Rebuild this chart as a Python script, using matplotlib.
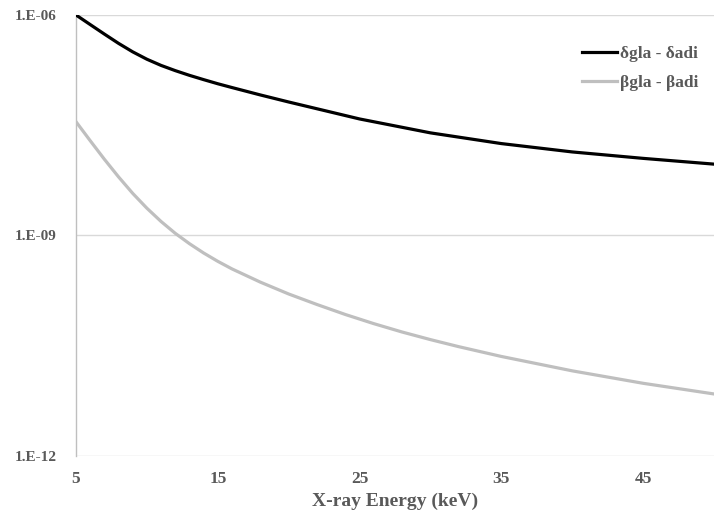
import math

import matplotlib

matplotlib.use("Agg")

import matplotlib.pyplot as plt
from matplotlib.ticker import FixedLocator, FuncFormatter, NullLocator

# X-ray energy (keV) and delta_gla - delta_adi
energy_delta = [5, 6, 7, 8, 9, 10, 11, 12, 13, 14, 15, 16, 18, 20, 25, 30, 35, 40, 45, 50]
delta_diff = [1.0e-6, 7.41e-7, 5.50e-7, 4.11e-7, 3.15e-7, 2.50e-7, 2.06e-7, 1.75e-7,
              1.51e-7, 1.32e-7, 1.16e-7, 1.03e-7, 8.17e-8, 6.55e-8, 3.85e-8, 2.49e-8,
              1.78e-8, 1.37e-8, 1.12e-8, 9.35e-9]

# X-ray energy (keV) and beta_gla - beta_adi
energy_beta = [5, 6, 7, 8, 9, 10, 11, 12, 13, 14, 15, 16, 18, 20, 22, 24, 26, 28, 30, 32,
               35, 40, 45, 50]
beta_diff = [3.53e-8, 1.95e-8, 1.09e-8, 6.27e-9, 3.74e-9, 2.35e-9, 1.55e-9, 1.07e-9,
             7.74e-10, 5.78e-10, 4.45e-10, 3.51e-10, 2.32e-10, 1.60e-10, 1.15e-10, 8.41e-11,
             6.32e-11, 4.86e-11, 3.83e-11, 3.07e-11, 2.26e-11, 1.44e-11, 9.75e-12, 6.98e-12]

x_ticks = [5, 15, 25, 35, 45]
y_ticks = [1e-12, 1e-9, 1e-6]

TEXT_GREY = "#595959"
GRID_GREY = "#D9D9D9"


def excel_sci(value, _pos):
    return f"1.E{int(round(math.log10(value))):03d}"


plt.rcParams.update({
    "font.family": "Liberation Serif",
    "font.weight": "bold",
})

fig = plt.figure(figsize=(7.15, 5.15), dpi=100)
ax = fig.add_axes([0.1063, 0.1146, 0.8923, 0.8563])

ax.plot(energy_delta, delta_diff, color="black", linewidth=2.3, label="δgla - δadi", zorder=3)
ax.plot(energy_beta, beta_diff, color="#BFBFBF", linewidth=2.3, label="βgla - βadi", zorder=3)

ax.set_yscale("log")
ax.set_xlim(5, 50)
ax.set_ylim(1e-12, 1e-6)
ax.yaxis.set_major_locator(FixedLocator(y_ticks))
ax.yaxis.set_minor_locator(NullLocator())
ax.yaxis.set_major_formatter(FuncFormatter(excel_sci))
ax.set_xticks(x_ticks)

ax.grid(axis="y", color=GRID_GREY, linewidth=1.0, zorder=0)
for side in ("top", "right", "bottom"):
    ax.spines[side].set_visible(False)
ax.spines["left"].set_color("#BFBFBF")
ax.spines["left"].set_linewidth(1.0)

ax.tick_params(axis="both", length=0, labelcolor=TEXT_GREY)
ax.tick_params(axis="y", pad=14, labelsize=11)
ax.tick_params(axis="x", pad=11, labelsize=12.5)

ax.set_xlabel("X-ray Energy (keV)", fontsize=14, fontweight="bold", color=TEXT_GREY, labelpad=4)

ax.legend(
    loc="upper right",
    bbox_to_anchor=(1.0, 0.965),
    frameon=False,
    handlelength=2.0,
    handletextpad=0.2,
    labelspacing=0.75,
    labelcolor=TEXT_GREY,
    prop={"family": "Liberation Serif", "weight": "bold", "size": 12.5},
)

fig.savefig("out.png", dpi=100)
